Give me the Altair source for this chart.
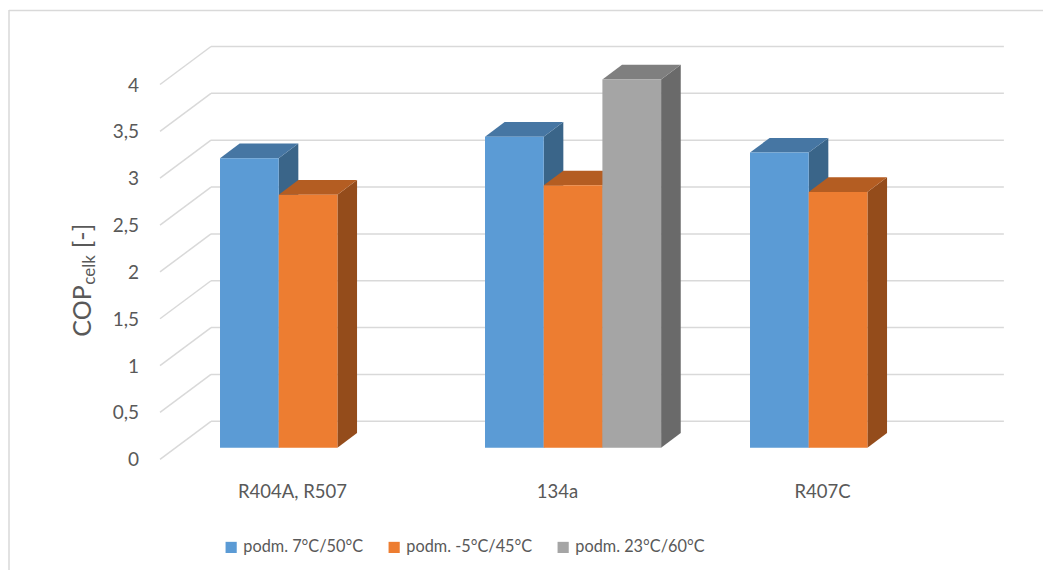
import altair as alt
import pandas as pd

# ---------------- data ----------------
categories = ["R404A, R507", "134a", "R407C"]
series = ["podm. 7°C/50°C", "podm. -5°C/45°C", "podm. 23°C/60°C"]
cop_7_50 = [3.09, 3.32, 3.15]
cop_m5_45 = [2.70, 2.80, 2.73]
cop_23_60 = [None, 3.93, None]
y_ticks = [0, 0.5, 1, 1.5, 2, 2.5, 3, 3.5, 4]
y_tick_labels = ["0", "0,5", "1", "1,5", "2", "2,5", "3", "3,5", "4"]

# ---------------- style ----------------
front_colors = ["#5B9BD5", "#ED7D31", "#A5A5A5"]
top_colors = ["#4676A3", "#B45D22", "#7F7F7F"]
side_colors = ["#3A6589", "#944C1B", "#6A6A6A"]
GRID = "#D9D9D9"
TXT = "#595959"
FONT = "Lato"

# geometry: x in category units, y in COP units
DX, DY = 51 / 265, 38 / 93.7      # oblique depth vector
F0, F1 = 0.305, 0.69              # depth fractions of the bars
SLOT = 0.2215                     # bar width in category units
W, H = 1035, 562
X_DOM = [-284.5 / 265, (W - 284.5) / 265]
Y_DOM = [(451.3 - H) / 93.7, 451.3 / 93.7]

xs = alt.Scale(domain=X_DOM, nice=False, zero=False)
ys = alt.Scale(domain=Y_DOM, nice=False, zero=False)

front, top, side = [], [], []
for ci, cat in enumerate(categories):
    for si, (s, vals) in enumerate(zip(series, [cop_7_50, cop_m5_45, cop_23_60])):
        v = vals[ci]
        if v is None:
            continue
        bid = f"{ci}-{si}"
        xl = ci + (si - 1.5) * SLOT
        xr = xl + SLOT
        front.append(dict(series=s, x=xl + F0 * DX, x2=xr + F0 * DX, y=F0 * DY, y2=v + F0 * DY))
        for f in (F0, F1):
            top.append(dict(series=s, bid=bid, y=v + f * DY, x=xl + f * DX, x2=xr + f * DX))
            side.append(dict(series=s, bid=bid, x=xr + f * DX, y=f * DY, y2=v + f * DY))

grid = []
for v in y_ticks:
    grid.append(dict(x=-0.5, x2=-0.5 + DX, y=v, y2=v + DY))
    grid.append(dict(x=-0.5 + DX, x2=2.5 + DX - 0.008, y=v + DY, y2=v + DY))

front_df = pd.DataFrame(front)
top_df = pd.DataFrame(top)
side_df = pd.DataFrame(side)
grid_df = pd.DataFrame(grid)
ylab_df = pd.DataFrame({"v": y_ticks, "label": y_tick_labels})
cat_df = pd.DataFrame({"u": list(range(len(categories))), "label": categories})

# ---------------- layers ----------------
border = alt.Chart(pd.DataFrame({"a": [0]})).mark_rule(color=GRID, strokeWidth=1.5)
border_left = border.encode(x=alt.value(1), y=alt.value(2), y2=alt.value(H))
border_top = border.encode(x=alt.value(1), x2=alt.value(W), y=alt.value(2.5))

grid_l = alt.Chart(grid_df).mark_rule(color=GRID, strokeWidth=1.5).encode(
    x=alt.X("x:Q", scale=xs, axis=None), x2="x2:Q",
    y=alt.Y("y:Q", scale=ys, axis=None), y2="y2:Q",
)

side_l = alt.Chart(side_df).mark_area(orient="vertical", opacity=1).encode(
    x=alt.X("x:Q", scale=xs, axis=None),
    y=alt.Y("y:Q", scale=ys, axis=None, stack=None), y2="y2:Q",
    detail="bid:N",
    color=alt.Color("series:N", scale=alt.Scale(domain=series, range=side_colors), legend=None),
)

top_l = alt.Chart(top_df).mark_area(orient="horizontal", opacity=1).encode(
    y=alt.Y("y:Q", scale=ys, axis=None),
    x=alt.X("x:Q", scale=xs, axis=None, stack=None), x2="x2:Q",
    detail="bid:N",
    color=alt.Color("series:N", scale=alt.Scale(domain=series, range=top_colors), legend=None),
)

front_l = alt.Chart(front_df).mark_rect(opacity=1).encode(
    x=alt.X("x:Q", scale=xs, axis=None), x2="x2:Q",
    y=alt.Y("y:Q", scale=ys, axis=None), y2="y2:Q",
    color=alt.Color(
        "series:N",
        scale=alt.Scale(domain=series, range=front_colors),
        legend=alt.Legend(
            title=None, orient="none", legendX=215, legendY=531,
            direction="horizontal", symbolType="square", symbolSize=125,
            symbolStrokeWidth=0, labelFont=FONT, labelFontSize=16.3,
            labelColor=TXT, columnPadding=22, labelOffset=4,
        ),
    ),
)

ylab_l = alt.Chart(ylab_df).mark_text(
    align="right", baseline="middle", font=FONT, fontSize=19, color=TXT, dy=1
).encode(
    x=alt.value(131), y=alt.Y("v:Q", scale=ys, axis=None), text="label:N"
)

cat_l = alt.Chart(cat_df).mark_text(
    align="center", baseline="middle", font=FONT, fontSize=18.5, color=TXT
).encode(
    x=alt.X("u:Q", scale=xs, axis=None), y=alt.value(484), text="label:N"
)

tdf = pd.DataFrame({"a": [0]})
t_cop = alt.Chart(tdf).mark_text(
    angle=270, align="center", baseline="middle", font=FONT, fontSize=25, color=TXT
).encode(x=alt.value(75), y=alt.value(303), text=alt.value("COP"))
t_sub = alt.Chart(tdf).mark_text(
    angle=270, align="center", baseline="middle", font=FONT, fontSize=17, color=TXT
).encode(x=alt.value(82), y=alt.value(262), text=alt.value("celk"))
t_unit = alt.Chart(tdf).mark_text(
    angle=270, align="center", baseline="middle", font=FONT, fontSize=25, color=TXT
).encode(x=alt.value(75), y=alt.value(228), text=alt.value("[-]"))

chart = alt.layer(
    border_left, border_top, grid_l, side_l, top_l, front_l,
    ylab_l, cat_l, t_cop, t_sub, t_unit,
).resolve_scale(color="independent").properties(
    width=W, height=H, autosize=alt.AutoSizeParams(type="none"), padding=0,
    background="white",
).configure_view(stroke=None)

chart.save("out.html", embed_options={"renderer": "svg", "actions": False})
